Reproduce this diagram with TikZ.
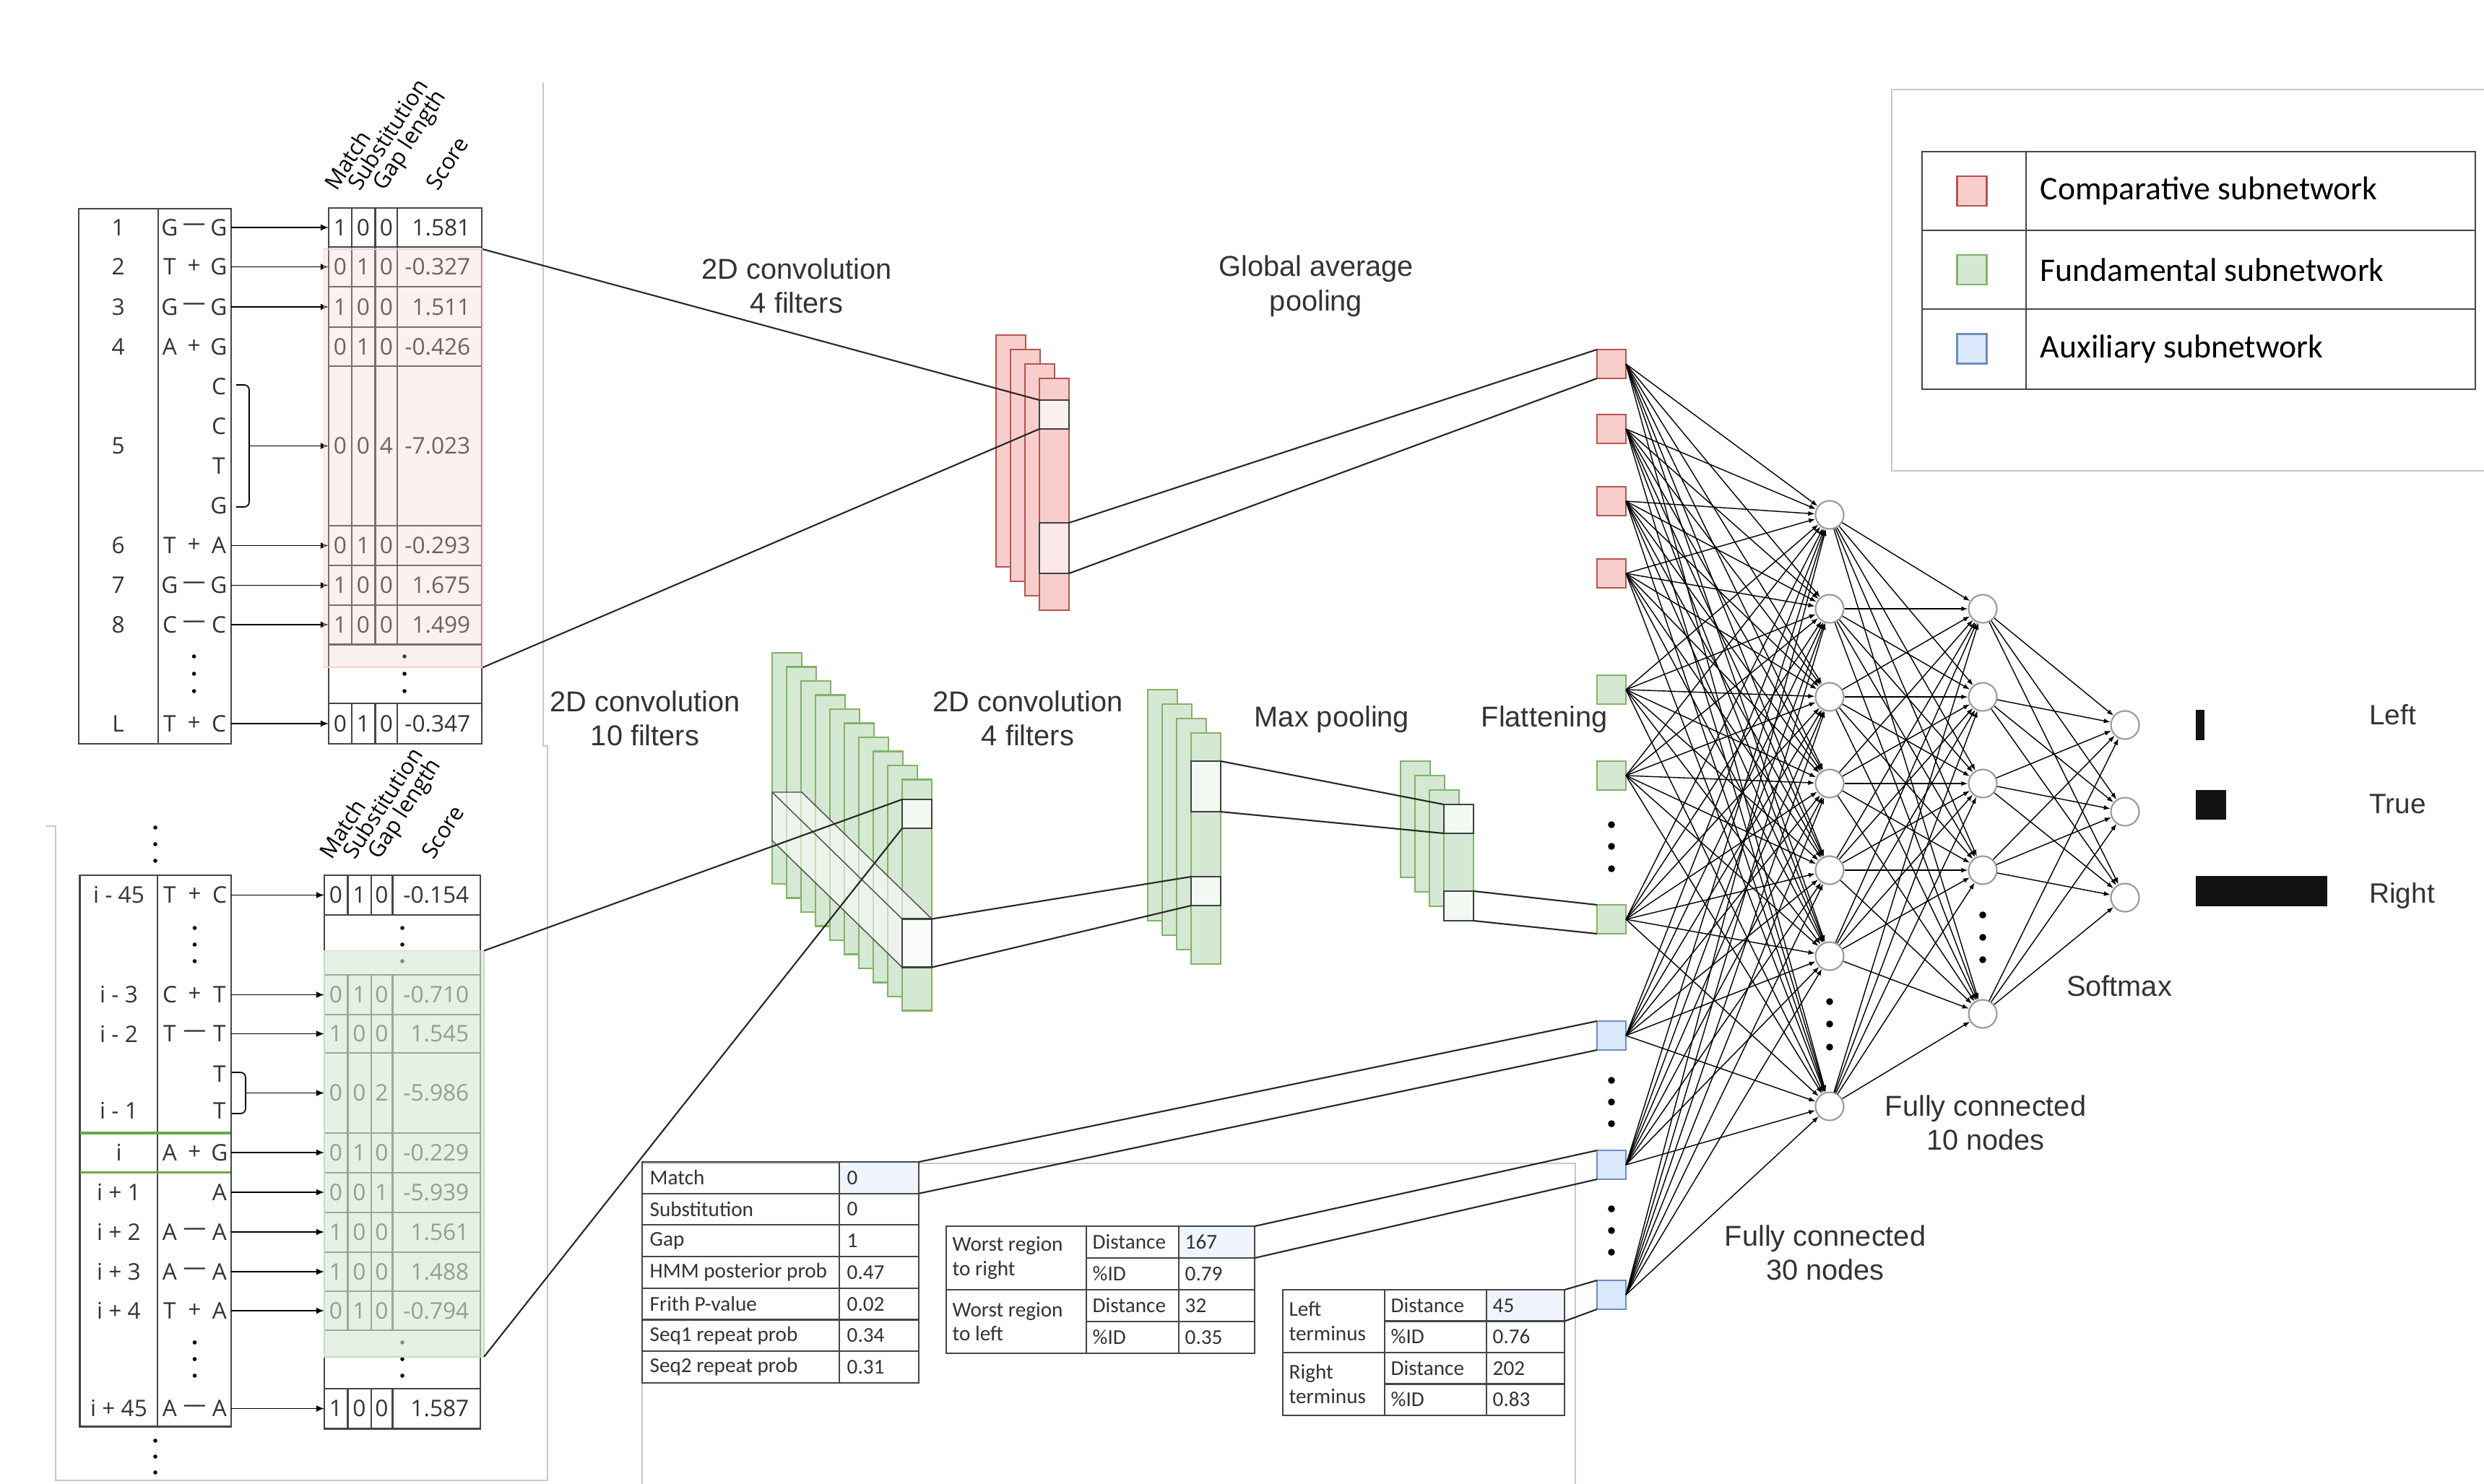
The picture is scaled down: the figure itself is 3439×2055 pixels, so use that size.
\documentclass[tikz,border=0pt]{standalone}
\usepackage{fontspec}
\setmainfont{Liberation Sans}
\newfontfamily\seqfont{Open Sans}
\newfontfamily\tabfont{Carlito}
\usepackage{xcolor}
\usepackage{tikz}
\usetikzlibrary{arrows.meta, positioning, calc}
\definecolor{fillred}{RGB}{248, 206, 204}
\definecolor{linered}{RGB}{184, 84, 80}
\definecolor{fillgreen}{RGB}{213, 232, 212}
\definecolor{linegreen}{RGB}{130, 179, 102}
\definecolor{fillblue}{RGB}{218, 232, 252}
\definecolor{lineblue}{RGB}{108, 142, 191}
\definecolor{framegray}{RGB}{200, 200, 200}
\definecolor{tabgray}{RGB}{70, 70, 70}
\definecolor{cellblue}{RGB}{240, 244, 252}
\definecolor{markgreen}{RGB}{106, 168, 79}
\definecolor{textgray}{RGB}{51, 51, 51}
\tikzstyle{layertext} = [
    font=\fontsize{11.3}{13.5}\selectfont,
    text=textgray,
    align=center
]
\tikzstyle{seqtext} = [
    font=\seqfont\fontsize{9}{10}\selectfont,
    text=textgray,
    inner sep=0pt
]
\tikzstyle{headtext} = [
    font=\seqfont\fontsize{8.8}{9}\selectfont,
    rotate=57,
    anchor=base west,
    inner sep=0pt
]
\tikzstyle{tabtext} = [
    font=\tabfont\fontsize{8.3}{9.5}\selectfont,
    text=textgray,
    anchor=west,
    align=left,
    inner sep=0pt
]
\tikzstyle{legtext} = [
    font=\tabfont\fontsize{13}{15}\selectfont,
    anchor=west,
    inner sep=0pt
]
\tikzstyle{tabbox} = [
    rectangle,
    draw=tabgray,
    line width=0.6pt,
    inner sep=0pt,
    outer sep=0pt,
    anchor=north west
]
\tikzstyle{tabline} = [draw=tabgray, line width=0.6pt]
\tikzstyle{panelframe} = [draw=framegray, line width=0.5pt]
\tikzstyle{bandbox} = [
    rectangle,
    inner sep=0pt,
    outer sep=0pt,
    anchor=north west,
    line width=0.5pt
]
\tikzstyle{fmcell} = [
    rectangle,
    draw=black!75,
    fill=white,
    fill opacity=0.7,
    line width=0.6pt,
    inner sep=0pt,
    outer sep=0pt,
    anchor=north west,
    minimum width=0.41cm
]
\tikzstyle{insq} = [
    rectangle,
    minimum size=0.4cm,
    inner sep=0pt,
    outer sep=0pt,
    line width=0.6pt
]
\tikzstyle{neuron} = [
    circle,
    draw=black!40,
    fill=white,
    minimum size=0.39cm,
    inner sep=0pt,
    line width=0.6pt
]
\tikzstyle{conn} = [
    line width=0.4pt,
    -{Latex[length=2.6pt,width=1.9pt]}
]
\tikzstyle{arw} = [
    line width=0.5pt,
    -{Latex[length=3.2pt,width=2.6pt]}
]
\tikzstyle{wire} = [line width=0.6pt, color=black!85]

\begin{document}
\begin{tikzpicture}[x=0.01cm, y=-0.01cm]
    \useasboundingbox (0,0) rectangle (3439,2055);

    % Panel frames
    \draw[panelframe] (752,114) -- (752,1033) -- (758,1033) -- (758,2050) -- (77,2050) -- (77,1144) -- (64,1144);
    \draw[panelframe] (889,2055) -- (889,1611) -- (2181,1611) -- (2181,2055);
    \draw[panelframe] (3439,124) -- (2619,124) -- (2619,652) -- (3439,652);

    % Alignment window (comparative)
    \node[tabbox, minimum width=2.11cm, minimum height=7.41cm] (alnA) at (109,289) {};
    \draw[tabline] (218.6,289) -- (218.6,1030);
    \foreach \y/\n/\a/\o/\b [count=\k] in {315/1/G/—/G, 369.5/2/T/+/G, 425/3/G/—/G, 480/4/A/+/G, 755.5/6/T/+/A, 810.5/7/G/—/G, 865/8/C/—/C, 1002/L/T/+/C} {
        \node[seqtext] (numA\k) at (163.7,\y) {\n};
        \node[seqtext] (leftA\k) at (235,\y) {\a};
        \node[seqtext] (opA\k) at (268.6,\y) {\o};
        \node[seqtext] (rightA\k) at (303,\y) {\b};
    }
    \node[seqtext] (numA5) at (163.7,617.5) {5};
    \foreach \y/\b [count=\k] in {535/C, 590/C, 645/T, 700/G}
        \node[seqtext] (gapA\k) at (303,\y) {\b};
    \foreach \y in {909,933,957}
        \fill (268.6,\y) circle[radius=0.028cm];
    \draw[line width=0.5pt, rounded corners=2pt] (327,533) -- (345,533) -- (345,702) -- (327,702);
    \coordinate (braceA) at (345,617.5);

    % Score table (comparative)
    \node[tabbox, minimum width=2.12cm, minimum height=7.42cm] (scoreA) at (455,288) {};
    \foreach \y in {342,397,452.6,507,728,783,838,892.5,974}
        \draw[tabline] (455,\y) -- (667,\y);
    \foreach \x in {487,519.5,550} {
        \draw[tabline] (\x,288) -- (\x,892.5);
        \draw[tabline] (\x,974) -- (\x,1030);
    }
    \foreach \y/\m/\s/\g/\v [count=\k] in {315/1/0/0/1.581, 369.5/0/1/0/-0.327, 425/1/0/0/1.511, 480/0/1/0/-0.426, 617.5/0/0/4/-7.023, 755.5/0/1/0/-0.293, 810.5/1/0/0/1.675, 865/1/0/0/1.499, 1002/0/1/0/-0.347} {
        \node[seqtext] (mA\k) at (471,\y) {\m};
        \node[seqtext] (sA\k) at (503,\y) {\s};
        \node[seqtext] (gA\k) at (535,\y) {\g};
        \node[seqtext, anchor=east] (vA\k) at (652,\y) {\v};
    }
    \foreach \y in {909,933,957}
        \fill (560,\y) circle[radius=0.028cm];
    \foreach \x/\t [count=\k] in {466/Match, 498/Substitution, 532/Gap length, 606/Score}
        \node[headtext] (headA\k) at (\x,266) {\t};

    % Arrows into score table
    \foreach \y in {315,369.5,425,755.5,810.5,865,1002} {
        \coordinate (rowA) at (0,\y);
        \draw[arw] (alnA.east |- rowA) -- (scoreA.west |- rowA);
    }
    \draw[arw] (braceA) -- (scoreA.west |- braceA);
    \node[bandbox, draw=fillred, fill=fillred, fill opacity=0.3, minimum width=2.195cm, minimum height=5.79cm] (bandA) at (448.5,345) {};

    % Alignment window (fundamental)
    \node[tabbox, minimum width=2.09cm, minimum height=7.63cm] (alnB) at (110.5,1212) {};
    \draw[tabline] (218.4,1212) -- (218.4,1975);
    \foreach \y/\n/\a/\o/\b [count=\k] in {1239.5/i - 45/T/+/C, 1377.5/i - 3/C/+/T, 1431.5/i - 2/T/—/T, 1596/i/A/+/G, 1706/i + 2/A/—/A, 1761/i + 3/A/—/A, 1815/i + 4/T/+/A, 1950.5/i + 45/A/—/A} {
        \node[seqtext] (numB\k) at (164.5,\y) {\n};
        \node[seqtext] (leftB\k) at (235,\y) {\a};
        \node[seqtext] (opB\k) at (269.5,\y) {\o};
        \node[seqtext] (rightB\k) at (304,\y) {\b};
    }
    \node[seqtext] (gapB1) at (304,1487) {T};
    \node[seqtext] (numB9) at (164.5,1538) {i - 1};
    \node[seqtext] (gapB2) at (304,1538) {T};
    \node[seqtext] (numB10) at (164.5,1651) {i + 1};
    \node[seqtext] (gapB3) at (304,1651) {A};
    \foreach \y in {1285,1308,1331,1859,1882,1905}
        \fill (269.5,\y) circle[radius=0.028cm];
    \foreach \y in {1146,1169,1192,1995,2017,2039}
        \fill (215,\y) circle[radius=0.028cm];
    \draw[markgreen, line width=1pt] (110.5,1569) -- (319.4,1569);
    \draw[markgreen, line width=1pt] (110.5,1623.6) -- (319.4,1623.6);
    \draw[line width=0.5pt, rounded corners=2pt] (321,1485) -- (340,1485) -- (340,1542) -- (321,1542);
    \coordinate (braceB) at (340,1513.5);

    % Score table (fundamental)
    \node[tabbox, minimum width=2.16cm, minimum height=7.66cm] (scoreB) at (449,1212) {};
    \foreach \y in {1267,1350,1405,1458,1569,1623.6,1678.6,1734,1788,1842,1923}
        \draw[tabline] (449,\y) -- (665,\y);
    \foreach \x in {481.5,513.6,543.5} {
        \draw[tabline] (\x,1212) -- (\x,1267);
        \draw[tabline] (\x,1350) -- (\x,1842);
        \draw[tabline] (\x,1923) -- (\x,1978);
    }
    \foreach \y/\m/\s/\g/\v [count=\k] in {1239.5/0/1/0/-0.154, 1377.5/0/1/0/-0.710, 1431.5/1/0/0/1.545, 1513.5/0/0/2/-5.986, 1596/0/1/0/-0.229, 1651/0/0/1/-5.939, 1706/1/0/0/1.561, 1761/1/0/0/1.488, 1815/0/1/0/-0.794, 1950.5/1/0/0/1.587} {
        \node[seqtext] (mB\k) at (465,\y) {\m};
        \node[seqtext] (sB\k) at (497.5,\y) {\s};
        \node[seqtext] (gB\k) at (528.5,\y) {\g};
        \node[seqtext, anchor=east] (vB\k) at (650,\y) {\v};
    }
    \foreach \y in {1285,1308,1331,1859,1882,1905}
        \fill (557,\y) circle[radius=0.028cm];
    \foreach \x/\t [count=\k] in {459/Match, 491/Substitution, 525/Gap length, 600/Score}
        \node[headtext] (headB\k) at (\x,1192) {\t};

    % Arrows into score table
    \foreach \y in {1239.5,1377.5,1431.5,1596,1651,1706,1761,1815,1950.5} {
        \coordinate (rowB) at (0,\y);
        \draw[arw] (alnB.east |- rowB) -- (scoreB.west |- rowB);
    }
    \draw[arw] (braceB) -- (scoreB.west |- braceB);
    \node[bandbox, draw=fillgreen!80!linegreen, fill=fillgreen, fill opacity=0.6, minimum width=2.21cm, minimum height=5.62cm] (bandB) at (449,1316.5) {};

    % Comparative convolution, 4 filters
    \foreach \i in {0,...,3}
        \draw[fill=fillred, draw=linered, line width=0.6pt] (1379+20*\i,464+20*\i) rectangle ++(41,321);
    \node[fmcell, minimum height=0.4cm] (redtop) at (1439,554) {};
    \node[fmcell, minimum height=0.7cm, fill opacity=0.55] (redbot) at (1439,724) {};

    % Fundamental convolution, 10 filters
    \foreach \i in {0,...,9}
        \draw[fill=fillgreen, draw=linegreen, line width=0.6pt] (1069+20*\i,904+19.5*\i) rectangle ++(41,320);
    \fill[white, opacity=0.55] (1069,1097) -- (1110,1097) -- (1290,1272.5) -- (1290,1339.5) -- (1249,1339.5) -- (1069,1164) -- cycle;
    \draw[line width=0.4pt, black!70] (1069,1164) -- (1069,1097) -- (1110,1097) -- (1290,1272.5);
    \draw[line width=0.4pt, black!70] (1069,1097) -- (1249,1272.5);
    \draw[line width=0.4pt, black!70] (1069,1164) -- (1249,1339.5);
    \node[fmcell, minimum height=0.4cm] (convsmall) at (1249,1107) {};
    \node[fmcell, minimum height=0.67cm] (convbig) at (1249,1272.5) {};

    % Fundamental convolution, 4 filters
    \foreach \i in {0,...,3}
        \draw[fill=fillgreen, draw=linegreen, line width=0.6pt] (1589+20*\i,955+20*\i) rectangle ++(41,320);
    \node[fmcell, minimum height=0.7cm] (conv2top) at (1649,1054) {};
    \node[fmcell, minimum height=0.4cm] (conv2bot) at (1649,1214) {};

    % Max pooling
    \foreach \i in {0,...,3}
        \draw[fill=fillgreen, draw=linegreen, line width=0.6pt] (1939+20*\i,1054+20*\i) rectangle ++(41,161);
    \node[fmcell, minimum height=0.4cm] (pooltop) at (1999,1114) {};
    \node[fmcell, minimum height=0.41cm] (poolbot) at (1999,1234) {};

    % Auxiliary features
    \draw[tabline] (889,1609) rectangle (1272,1915);
    \draw[tabline] (1162,1609) -- (1162,1915);
    \foreach \k in {1,...,6}
        \draw[tabline] (889,1609+43.7*\k) -- (1272,1609+43.7*\k);
    \node[tabbox, fill=cellblue, minimum width=1.1cm, minimum height=0.437cm] (matchval) at (1162,1609) {};
    \foreach \t/\v [count=\k] in {Match/0, Substitution/0, Gap/1, HMM posterior prob/0.47, Frith P-value/0.02, Seq1 repeat prob/0.34, Seq2 repeat prob/0.31} {
        \node[tabtext] (featname\k) at (899,1587.2+43.7*\k) {\t};
        \node[tabtext] (featval\k) at (1172,1587.2+43.7*\k) {\v};
    }

    \draw[tabline] (1310,1698) rectangle (1737,1874);
    \draw[tabline] (1504,1698) -- (1504,1874);
    \draw[tabline] (1632,1698) -- (1632,1874);
    \draw[tabline] (1310,1786) -- (1737,1786);
    \draw[tabline] (1504,1742) -- (1737,1742);
    \draw[tabline] (1504,1830) -- (1737,1830);
    \node[tabbox, fill=cellblue, minimum width=1.05cm, minimum height=0.44cm] (worstval) at (1632,1698) {};
    \node[tabtext] (worstR) at (1318,1742) {Worst region\\to right};
    \node[tabtext] (worstL) at (1318,1830) {Worst region\\to left};
    \foreach \y/\t/\v [count=\k] in {1720/Distance/167, 1764/\%ID/0.79, 1808/Distance/32, 1852/\%ID/0.35} {
        \node[tabtext] (worstname\k) at (1512,\y) {\t};
        \node[tabtext] (worstnum\k) at (1640,\y) {\v};
    }

    \draw[tabline] (1776,1786) rectangle (2166,1960);
    \draw[tabline] (1917,1786) -- (1917,1960);
    \draw[tabline] (2058,1786) -- (2058,1960);
    \draw[tabline] (1776,1873) -- (2166,1873);
    \draw[tabline] (1917,1829.5) -- (2166,1829.5);
    \draw[tabline] (1917,1916.5) -- (2166,1916.5);
    \node[tabbox, fill=cellblue, minimum width=1.08cm, minimum height=0.435cm] (termval) at (2058,1786) {};
    \node[tabtext] (termL) at (1784,1829.5) {Left\\terminus};
    \node[tabtext] (termR) at (1784,1916.5) {Right\\terminus};
    \foreach \y/\t/\v [count=\k] in {1808/Distance/45, 1851/\%ID/0.76, 1895/Distance/202, 1938/\%ID/0.83} {
        \node[tabtext] (termname\k) at (1925,\y) {\t};
        \node[tabtext] (termnum\k) at (2066,\y) {\v};
    }

    % Input layer
    \foreach \y/\c [count=\k] in {504/red, 594/red, 694/red, 794/red, 955/green, 1074/green, 1273/green, 1434/blue, 1613/blue, 1793/blue}
        \node[insq, fill=fill\c, draw=line\c] (in\k) at (2231,\y) {};
    \foreach \y in {1142,1172,1203,1496,1526,1556,1674,1704,1734}
        \fill (2231,\y) circle[radius=0.048cm];

    % Hidden and output layers
    \foreach \y [count=\k] in {713,843,965,1085,1205,1324,1532}
        \node[neuron] (h\k) at (2533,\y) {};
    \foreach \y [count=\k] in {843,965,1085,1205,1404}
        \node[neuron] (g\k) at (2745,\y) {};
    \foreach \y [count=\k] in {1004,1124,1243}
        \node[neuron] (o\k) at (2942,\y) {};
    \foreach \y in {1387,1418,1450}
        \fill (2533,\y) circle[radius=0.048cm];
    \foreach \y in {1267,1298,1329}
        \fill (2745,\y) circle[radius=0.048cm];

    % Dense connections
    \foreach \i in {1,...,10}
        \foreach \j in {1,...,7}
            \draw[conn] (in\i.east) -- (h\j);
    \foreach \i in {1,...,7}
        \foreach \j in {1,...,5}
            \draw[conn] (h\i) -- (g\j);
    \foreach \i in {1,...,5}
        \foreach \j in {1,...,3}
            \draw[conn] (g\i) -- (o\j);

    % Feature map links
    \draw[wire] (bandA.north east) -- (redtop.north west);
    \draw[wire] (bandA.south east) -- (redtop.south west);
    \draw[wire] (redbot.north east) -- (in1.north west);
    \draw[wire] (redbot.south east) -- (in1.south west);
    \draw[wire] (bandB.north east) -- (convsmall.north west);
    \draw[wire] (bandB.south east) -- (convsmall.south west);
    \draw[wire] (convbig.north east) -- (conv2bot.north west);
    \draw[wire] (convbig.south east) -- (conv2bot.south west);
    \draw[wire] (conv2top.north east) -- (pooltop.north west);
    \draw[wire] (conv2top.south east) -- (pooltop.south west);
    \draw[wire] (poolbot.north east) -- (in7.north west);
    \draw[wire] (poolbot.south east) -- (in7.south west);
    \draw[wire] (matchval.north east) -- (in8.north west);
    \draw[wire] (matchval.south east) -- (in8.south west);
    \draw[wire] (worstval.north east) -- (in9.north west);
    \draw[wire] (worstval.south east) -- (in9.south west);
    \draw[wire] (termval.north east) -- (in10.north west);
    \draw[wire] (termval.south east) -- (in10.south west);

    % Layer captions
    \node[layertext] (capconvA) at (1103,396) {2D convolution\\4 filters};
    \node[layertext] (capgap) at (1822,396) {Global average\\pooling};
    \node[layertext] (capconvB) at (893,995) {2D convolution\\10 filters};
    \node[layertext] (capconvC) at (1423,995) {2D convolution\\4 filters};
    \node[layertext] (capmax) at (1844,996) {Max pooling};
    \node[layertext] (capflat) at (2138,996) {Flattening};
    \node[layertext] (capfc30) at (2527,1735) {Fully connected\\30 nodes};
    \node[layertext] (capfc10) at (2749,1555) {Fully connected\\10 nodes};
    \node[layertext] (capsoft) at (2934,1365) {Softmax};

    % Output bars
    \fill[black!93] (3040,983) rectangle (3052,1025);
    \fill[black!93] (3040,1094) rectangle (3082,1135);
    \fill[black!93] (3040,1213) rectangle (3222,1255);
    \node[layertext, anchor=west, font=\fontsize{11}{13}\selectfont] (outL) at (3268,990) {Left};
    \node[layertext, anchor=west, font=\fontsize{11}{13}\selectfont] (outT) at (3268,1113) {True};
    \node[layertext, anchor=west, font=\fontsize{11}{13}\selectfont] (outR) at (3268,1240) {Right};

    % Legend
    \draw[tabline] (2661,210) rectangle (3427,538.6);
    \draw[tabline] (2805,210) -- (2805,538.6);
    \draw[tabline] (2661,319) -- (3427,319);
    \draw[tabline] (2661,428) -- (3427,428);
    \node[insq, fill=fillred, draw=linered, minimum size=0.41cm] (legred) at (2730,264.5) {};
    \node[insq, fill=fillgreen, draw=linegreen, minimum size=0.41cm] (leggreen) at (2730,373.5) {};
    \node[insq, fill=fillblue, draw=lineblue, minimum size=0.41cm] (legblue) at (2730,483) {};
    \node[legtext] (legredtxt) at (2824,264.5) {Comparative subnetwork};
    \node[legtext] (leggreentxt) at (2824,373.5) {Fundamental subnetwork};
    \node[legtext] (legbluetxt) at (2824,483) {Auxiliary subnetwork};
\end{tikzpicture}
\end{document}
